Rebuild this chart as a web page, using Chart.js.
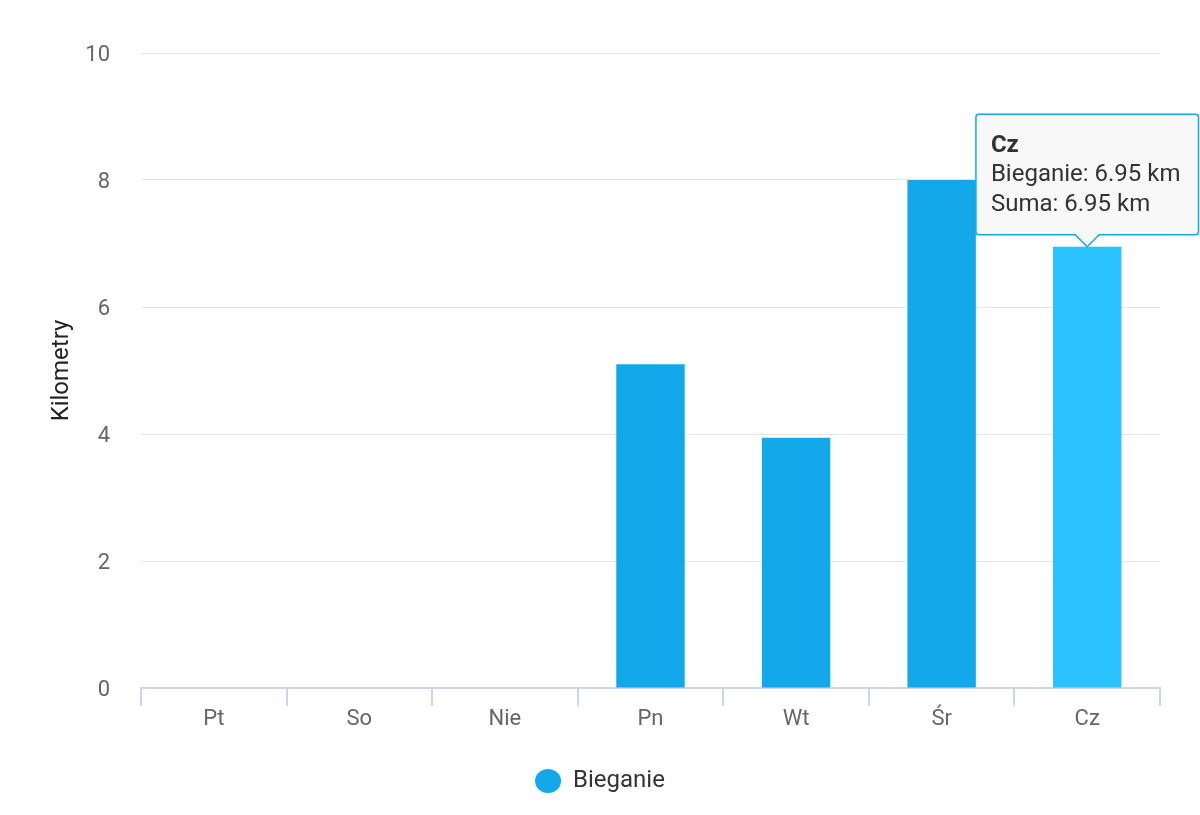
<!DOCTYPE html>
<html>
<head>
<meta charset="utf-8">
<script src="https://cdn.jsdelivr.net/npm/chart.js@4"></script>
<style>
  html, body { margin: 0; padding: 0; background: #fff; }
  #wrap { width: 1200px; height: 815px; }
</style>
</head>
<body>
<div id="wrap"><canvas id="runChart" width="1200" height="815"></canvas></div>
<script>
const days = ["Pt", "So", "Nie", "Pn", "Wt", "Śr", "Cz"];
const running = [0, 0, 0, 5.1, 3.94, 8.0, 6.95];
const yTicks = [0, 2, 4, 6, 8, 10];
const seriesName = "Bieganie";
const unit = "km";

const barColor = "#12a8ea";
const hoverColor = "#2bc3ff";
const font = "Roboto";

const chart = new Chart(document.getElementById("runChart"), {
  type: "bar",
  data: {
    labels: days,
    datasets: [{
      label: seriesName,
      data: running,
      backgroundColor: barColor,
      hoverBackgroundColor: hoverColor,
      borderWidth: 0,
      barPercentage: 0.47,
      categoryPercentage: 1
    }]
  },
  options: {
    responsive: false,
    animation: false,
    events: [],
    layout: { padding: { top: 53, left: 40, right: 40, bottom: 12 } },
    scales: {
      x: {
        grid: { drawOnChartArea: false, drawTicks: true, tickLength: 18, color: "#ccd6eb", lineWidth: 2 },
        border: { color: "#ccd6eb", width: 2 },
        ticks: { color: "#666", font: { family: font, size: 22 }, padding: 0 },
        afterFit: s => { s.height = 71; }
      },
      y: {
        min: 0,
        max: 10,
        afterBuildTicks: s => { s.ticks = yTicks.map(v => ({ value: v })); },
        grid: { color: "#e6e6e6", lineWidth: 1, drawTicks: false },
        border: { display: false },
        ticks: { color: "#666", font: { family: font, size: 22 }, padding: 31, labelOffset: 2 },
        title: { display: true, text: "Kilometry", color: "#222", font: { family: font, size: 24 }, padding: { top: 8, bottom: 0 } },
        afterFit: s => { s.width = 101; }
      }
    },
    plugins: {
      legend: {
        position: "bottom",
        labels: {
          usePointStyle: true,
          pointStyle: "circle",
          boxHeight: 17,
          pointStyleWidth: 26,
          padding: 10,
          color: "#333",
          font: { family: font, size: 24 }
        }
      },
      tooltip: {
        backgroundColor: "rgba(247,247,247,0.9)",
        borderColor: barColor,
        borderWidth: 1.5,
        cornerRadius: 3,
        caretSize: 12,
        caretPadding: 0,
        xAlign: "center",
        yAlign: "bottom",
        displayColors: false,
        padding: { top: 17, bottom: 15, left: 15, right: 18 },
        titleColor: "#333",
        bodyColor: "#333",
        footerColor: "#333",
        titleFont: { family: font, size: 24, weight: "bold" },
        bodyFont: { family: font, size: 24 },
        footerFont: { family: font, size: 24, weight: "normal" },
        titleMarginBottom: 1,
        footerMarginTop: 1,
        callbacks: {
          label: c => c.dataset.label + ": " + c.parsed.y.toFixed(2) + " " + unit,
          footer: items => {
            const i = items[0].dataIndex;
            const sum = items[0].chart.data.datasets.reduce((a, d) => a + (d.data[i] || 0), 0);
            return "Suma: " + sum.toFixed(2) + " " + unit;
          }
        }
      }
    }
  }
});

// show the tooltip on the last day, like in the screenshot
const active = [{ datasetIndex: 0, index: days.length - 1 }];
chart.setActiveElements(active);
chart.tooltip.setActiveElements(active, { x: 0, y: 0 });
chart.update();
</script>
</body>
</html>
